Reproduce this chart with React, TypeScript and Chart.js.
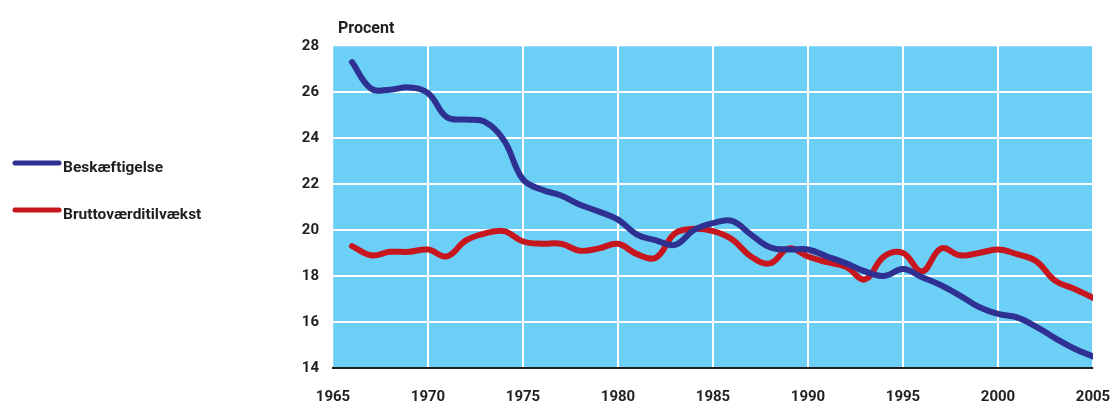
import React, { useEffect, useRef } from "react";
import { Chart, registerables } from "chart.js";

Chart.register(...registerables);

const years = [
  1966, 1967, 1968, 1969, 1970, 1971, 1972, 1973, 1974, 1975,
  1976, 1977, 1978, 1979, 1980, 1981, 1982, 1983, 1984, 1985,
  1986, 1987, 1988, 1989, 1990, 1991, 1992, 1993, 1994, 1995,
  1996, 1997, 1998, 1999, 2000, 2001, 2002, 2003, 2004, 2005,
];

const beskaeftigelse = [
  27.3, 26.15, 26.1, 26.2, 25.95, 24.9, 24.8, 24.7, 23.9, 22.2,
  21.75, 21.5, 21.1, 20.8, 20.45, 19.8, 19.55, 19.35, 20.0, 20.3,
  20.4, 19.8, 19.25, 19.15, 19.15, 18.85, 18.55, 18.2, 18.0, 18.3,
  17.95, 17.6, 17.15, 16.65, 16.35, 16.2, 15.8, 15.3, 14.85, 14.5,
];

const bruttovaerditilvaekst = [
  19.3, 18.9, 19.05, 19.05, 19.15, 18.85, 19.55, 19.85, 19.95, 19.5,
  19.4, 19.4, 19.1, 19.2, 19.4, 18.95, 18.8, 19.85, 20.05, 19.95,
  19.6, 18.85, 18.55, 19.2, 18.85, 18.6, 18.4, 17.85, 18.85, 19.0,
  18.2, 19.2, 18.9, 19.0, 19.15, 18.95, 18.65, 17.8, 17.45, 17.05,
];

const seriesLabels = ["Beskæftigelse", "Bruttoværditilvækst"];
const seriesColors = ["#2e3092", "#c8161e"];
const yAxisTitle = "Procent";

const X_MIN = 1965;
const X_MAX = 2005;
const Y_MIN = 14;
const Y_MAX = 28;

const TEXT = "#231f20";
const BG = "#6ccff6";
const FONT = "Roboto";

const decorPlugin = {
  id: "decor",
  beforeDraw(chart: any) {
    const { ctx, chartArea } = chart;
    ctx.save();
    ctx.fillStyle = BG;
    ctx.fillRect(chartArea.left, chartArea.top, chartArea.right - chartArea.left, chartArea.bottom - chartArea.top);
    ctx.restore();
  },
  afterDraw(chart: any) {
    const { ctx, chartArea } = chart;
    ctx.save();
    ctx.fillStyle = TEXT;
    ctx.font = `bold 16px ${FONT}`;
    ctx.textAlign = "left";
    ctx.textBaseline = "alphabetic";
    ctx.fillText(yAxisTitle, chartArea.left + 5, 33);
    chart.data.datasets.forEach((ds: any, i: number) => {
      const ly = 163 + i * 47;
      ctx.strokeStyle = ds.borderColor;
      ctx.lineWidth = 5;
      ctx.lineCap = "round";
      ctx.beginPath();
      ctx.moveTo(15, ly);
      ctx.lineTo(59, ly);
      ctx.stroke();
      ctx.fillStyle = TEXT;
      ctx.font = `bold 15.5px ${FONT}`;
      ctx.fillText(ds.label, 63, ly + 8.5);
    });
    ctx.restore();
  },
};

export default function App() {
  const ref = useRef<HTMLCanvasElement | null>(null);

  useEffect(() => {
    if (!ref.current) return;
    const edgeWidth = (c: any, n: number) =>
      c.index === 0 || c.index === n ? 1.2 : 2;
    const chart = new Chart(ref.current, {
      type: "line",
      data: {
        datasets: [
          {
            label: seriesLabels[0],
            data: years.map((y, i) => ({ x: y, y: beskaeftigelse[i] })),
            borderColor: seriesColors[0],
            backgroundColor: seriesColors[0],
            borderWidth: 6,
            pointRadius: 0,
            tension: 0.4,
            borderCapStyle: "round",
            borderJoinStyle: "round",
          },
          {
            label: seriesLabels[1],
            data: years.map((y, i) => ({ x: y, y: bruttovaerditilvaekst[i] })),
            borderColor: seriesColors[1],
            backgroundColor: seriesColors[1],
            borderWidth: 6,
            pointRadius: 0,
            tension: 0.4,
            borderCapStyle: "round",
            borderJoinStyle: "round",
          },
        ],
      },
      options: {
        animation: false,
        responsive: false,
        devicePixelRatio: 1,
        layout: { padding: { top: 46, right: 0, bottom: 0, left: 0 } },
        plugins: {
          legend: { display: false },
          tooltip: { enabled: false },
          title: { display: false },
        },
        scales: {
          x: {
            type: "linear",
            min: X_MIN,
            max: X_MAX,
            afterFit: (s: any) => {
              s.height = 37;
              s.paddingRight = 17;
            },
            ticks: {
              stepSize: 5,
              padding: 20,
              color: TEXT,
              font: { family: FONT, size: 15, weight: "bold" },
              callback: (v: any) => String(v),
              maxRotation: 0,
              autoSkip: false,
            },
            grid: {
              color: "#ffffff",
              lineWidth: (c: any) => edgeWidth(c, 8),
              drawTicks: false,
              tickLength: 0,
            },
            border: { display: true, color: TEXT, width: 2 },
          },
          y: {
            min: Y_MIN,
            max: Y_MAX,
            afterFit: (s: any) => {
              s.width = 333;
            },
            ticks: {
              stepSize: 2,
              padding: 14,
              color: TEXT,
              font: { family: FONT, size: 15, weight: "bold" },
            },
            grid: {
              color: "#ffffff",
              lineWidth: (c: any) => edgeWidth(c, 7),
              drawTicks: false,
              tickLength: 0,
            },
            border: { display: false },
          },
        },
      },
      plugins: [decorPlugin],
    });
    return () => chart.destroy();
  }, []);

  return (
    <div style={{ position: "absolute", left: 0, top: 0, width: 1110, height: 405, background: "#ffffff" }}>
      <canvas ref={ref} width={1110} height={405} style={{ display: "block" }} />
    </div>
  );
}
